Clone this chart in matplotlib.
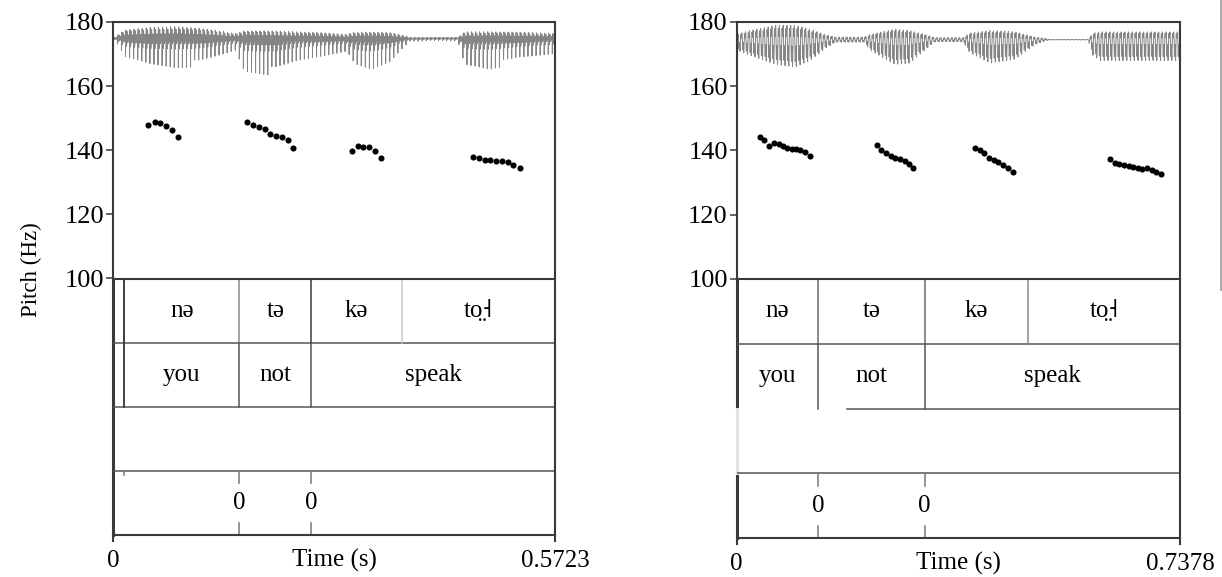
import numpy as np
import matplotlib
matplotlib.use("Agg")
import matplotlib.pyplot as plt
from matplotlib.lines import Line2D

plt.rcParams['font.family'] = ['Liberation Serif', 'DejaVu Serif']

# ---------------- Panel A (left) ----------------
dur_a = 0.5723
pitch_a_time = [0.0453, 0.0536, 0.0609, 0.0686, 0.0760, 0.0838,
                0.1735, 0.1809, 0.1887, 0.1960, 0.2033, 0.2111, 0.2184, 0.2262, 0.2331,
                0.3087, 0.3164, 0.3237, 0.3311, 0.3389, 0.3462,
                0.4661, 0.4735, 0.4809, 0.4881, 0.4955, 0.5029, 0.5107, 0.5179, 0.5262]
pitch_a_hz = [148.0, 148.75, 148.65, 147.7, 146.2, 144.0,
              148.75, 148.0, 147.1, 146.5, 145.0, 144.5, 144.2, 143.2, 140.7,
              139.8, 141.25, 141.1, 141.0, 139.7, 137.7,
              137.9, 137.6, 137.1, 136.9, 136.8, 136.6, 136.2, 135.5, 134.5]
syll_a_edges = [0.0, 0.0142, 0.1631, 0.2564, 0.3734, 0.5723]
syll_a_labels = ['', 'nə', 'tə', 'kə', 'to̤˧']
word_a_edges = [0.0, 0.0142, 0.1631, 0.2564, 0.5723]
word_a_labels = ['', 'you', 'not', 'speak']
point_a_time = [0.1631, 0.2564]
point_a_labels = ['0', '0']
# oscillogram envelope (time, extent above / below the trace centre, in Hz units)
wave_a_time = [0.000, 0.005, 0.015, 0.048, 0.080, 0.112, 0.138, 0.158, 0.170, 0.209,
               0.238, 0.268, 0.300, 0.313, 0.334, 0.358, 0.375, 0.384, 0.446, 0.455,
               0.488, 0.526, 0.5723]
wave_a_up = [0.3, 2.0, 5.0, 6.5, 7.0, 6.0, 4.5, 3.0, 4.5, 4.5,
             4.0, 3.5, 2.5, 3.8, 3.8, 3.5, 2.0, 0.8, 0.8, 4.0,
             4.0, 3.8, 3.0]
wave_a_down = [0.3, 2.0, 7.0, 9.0, 9.5, 8.5, 6.0, 4.0, 11.0, 11.4,
               8.0, 6.0, 4.0, 10.0, 11.4, 8.0, 3.0, 0.8, 0.8, 9.0,
               9.8, 7.0, 5.0]
wave_a_centre = 174.8
pulse_rate_a = 190.0

# ---------------- Panel B (right) ----------------
dur_b = 0.7378
pitch_b_time = [0.0388, 0.0460, 0.0543, 0.0626, 0.0699, 0.0771, 0.0842, 0.0915, 0.0987, 0.1058, 0.1142, 0.1215,
                0.2330, 0.2407, 0.2485, 0.2563, 0.2640, 0.2719, 0.2796, 0.2863, 0.2939,
                0.3966, 0.4044, 0.4122, 0.4201, 0.4279, 0.4357, 0.4435, 0.4514, 0.4592,
                0.6213, 0.6290, 0.6367, 0.6445, 0.6522, 0.6599, 0.6676, 0.6753, 0.6831, 0.6908, 0.6985, 0.7062]
pitch_b_hz = [144.2, 143.3, 141.3, 142.2, 141.9, 141.5, 140.9, 140.5, 140.6, 140.3, 139.6, 138.4,
              141.6, 140.1, 139.1, 138.4, 137.8, 137.3, 136.7, 135.8, 134.5,
              140.9, 140.0, 139.1, 137.8, 137.1, 136.3, 135.4, 134.5, 133.4,
              137.3, 136.25, 135.8, 135.5, 135.1, 134.8, 134.5, 134.3, 134.4, 134.0, 133.3, 132.8]
syll_b_edges = [0.0, 0.1353, 0.3129, 0.4853, 0.7378]
syll_b_labels = ['nə', 'tə', 'kə', 'to̤˧']
word_b_edges = [0.0, 0.1353, 0.3129, 0.7378]
word_b_labels = ['you', 'not', 'speak']
point_b_time = [0.1353, 0.3129]
point_b_labels = ['0', '0']
wave_b_time = [0.000, 0.022, 0.065, 0.097, 0.122, 0.147, 0.164, 0.212, 0.222, 0.263,
               0.288, 0.313, 0.330, 0.377, 0.388, 0.422, 0.463, 0.496, 0.513, 0.521,
               0.585, 0.593, 0.605, 0.7378]
wave_b_up = [2.0, 3.5, 5.5, 5.5, 4.0, 2.0, 1.0, 1.0, 2.0, 4.0,
             3.5, 2.0, 0.8, 0.8, 2.5, 3.5, 3.0, 1.0, 0.5, 0.1,
             0.1, 2.5, 3.0, 3.0]
wave_b_down = [4.0, 6.0, 9.5, 10.5, 8.0, 3.5, 1.0, 1.0, 4.0, 9.5,
               9.0, 4.0, 0.8, 0.8, 5.0, 9.0, 7.5, 2.0, 0.5, 0.1,
               0.1, 6.0, 8.0, 8.0]
wave_b_centre = 174.5
pulse_rate_b = 160.0

y_ticks = [100, 120, 140, 160, 180]

W, H = 1222, 577
FS_TICK = 19
FS = 18
FRAME = '#3a3a3a'
LINE = '#555555'

fig = plt.figure(figsize=(W / 100, H / 100), dpi=100)


def px_rect(x0, y0, x1, y1):
    return [x0 / W, 1 - y1 / H, (x1 - x0) / W, (y1 - y0) / H]


def oscillogram(dur, knots_t, up, down, centre, rate, spiky):
    t = np.arange(0, dur, 1 / 22050.0)
    phi = (rate * t) % 1.0
    if spiky:
        s = -np.exp(-phi / 0.05) + 0.55 * np.sin(2 * np.pi * 3 * phi) * np.exp(-phi / 0.5)
        pos_norm = 0.55
    else:
        s = 0.6 * np.sin(2 * np.pi * phi) + 0.4 * np.sin(2 * np.pi * 3 * phi + 0.5)
        pos_norm = 1.0
    eu = np.interp(t, knots_t, up)
    ed = np.interp(t, knots_t, down)
    y = centre + np.where(s > 0, s / pos_norm * eu, s * ed)
    return t, y


def panel(xl, xr, y_top, y_mid, y_bot, dur, p_t, p_hz, w_t, w_up, w_dn, w_c, rate, spiky,
          s_edges, s_labels, w_edges, w_labels, pt_t, pt_labels, bottom_label_y,
          edge_colors, tier3_left=True, tier3_top_from=0.0):
    ax = fig.add_axes(px_rect(xl, y_top, xr, y_mid))
    ax.set_xlim(0, dur)
    ax.set_ylim(100, 180)
    t, y = oscillogram(dur, w_t, w_up, w_dn, w_c, rate, spiky)
    ax.plot(t, y, color='#858585', lw=0.7)
    ax.plot(p_t, p_hz, 'o', color='black', ms=4.4, mec='black', mew=0)
    ax.set_yticks(y_ticks)
    ax.set_yticklabels([str(v) for v in y_ticks], fontsize=FS_TICK)
    ax.set_xticks([])
    ax.tick_params(axis='y', direction='out', length=5, width=1.1, color=FRAME, pad=1.5)
    for k in ('left', 'top', 'right'):
        ax.spines[k].set_color(FRAME)
        ax.spines[k].set_linewidth(1.5)
    ax.spines['bottom'].set_visible(False)

    tx = fig.add_axes(px_rect(xl, y_mid, xr, y_bot))
    tx.set_xlim(0, dur)
    tx.set_ylim(0, 4)
    tx.set_yticks([])
    tx.set_xticks([])
    for k in ('top', 'right', 'bottom'):
        tx.spines[k].set_color(FRAME)
        tx.spines[k].set_linewidth(1.5)
    tx.spines['left'].set_visible(False)
    # left border, tier by tier
    tx.plot([0, 0], [2, 4], color=FRAME, lw=2.2, clip_on=False)
    tx.plot([0, 0], [0, 1], color=FRAME, lw=2.2, clip_on=False)
    tx.plot([0, 0], [1, 2], color=FRAME if tier3_left else '#e4e4e4', lw=2.2, clip_on=False)
    # tier separators
    tx.plot([0, dur], [3, 3], color=LINE, lw=1.1)
    tx.plot([tier3_top_from, dur], [2, 2], color=LINE, lw=1.1)
    tx.plot([0, dur], [1, 1], color=LINE, lw=1.1)

    # interval tier 1
    for e, c in zip(s_edges[1:-1], edge_colors):
        tx.plot([e, e], [3, 4], color=c, lw=1.1)
    for a, b, lab in zip(s_edges[:-1], s_edges[1:], s_labels):
        if lab:
            tx.text((a + b) / 2, 3.5, lab, ha='center', va='center', fontsize=FS)
    # interval tier 2
    for e in w_edges[1:-1]:
        tx.plot([e, e], [2, 3], color=LINE, lw=1.1)
    for a, b, lab in zip(w_edges[:-1], w_edges[1:], w_labels):
        if lab:
            tx.text((a + b) / 2, 2.5, lab, ha='center', va='center', fontsize=FS)
    # point tier
    for p, lab in zip(pt_t, pt_labels):
        tx.plot([p, p], [0.81, 1.0], color='#777777', lw=1.1)
        tx.plot([p, p], [0.0, 0.19], color='#777777', lw=1.1)
        tx.text(p, 0.5, lab, ha='center', va='center', fontsize=FS)

    # time axis
    tx.plot([0, 0], [0, -0.09], color=FRAME, lw=1.5, clip_on=False)
    tx.plot([dur, dur], [0, -0.09], color=FRAME, lw=1.5, clip_on=False)
    yb = 1 - bottom_label_y / H
    fig.text(xl / W, yb, '0', ha='center', va='baseline', fontsize=FS)
    fig.text(xr / W, yb, f'{dur:.4f}', ha='center', va='baseline', fontsize=FS)
    fig.text((xl + xr) / 2 / W, yb, 'Time (s)', ha='center', va='baseline', fontsize=FS)
    return ax, tx


ax_a, tx_a = panel(113.3, 555.3, 22, 278.5, 535, dur_a, pitch_a_time, pitch_a_hz,
                   wave_a_time, wave_a_up, wave_a_down, wave_a_centre, pulse_rate_a, True,
                   syll_a_edges, syll_a_labels, word_a_edges, word_a_labels,
                   point_a_time, point_a_labels, 567,
                   edge_colors=[FRAME, '#8a8a8a', FRAME, '#c8c8c8'])
tx_a.plot([syll_a_edges[1]] * 2, [2, 4], color=FRAME, lw=1.1)
tx_a.plot([syll_a_edges[1]] * 2, [0.93, 1.0], color='#777777', lw=1.1)

ax_b, tx_b = panel(736.7, 1180.0, 22, 279, 538, dur_b, pitch_b_time, pitch_b_hz,
                   wave_b_time, wave_b_up, wave_b_down, wave_b_centre, pulse_rate_b, False,
                   syll_b_edges, syll_b_labels, word_b_edges, word_b_labels,
                   point_b_time, point_b_labels, 570,
                   edge_colors=['#6a6a6a', '#6a6a6a', '#8a8a8a'],
                   tier3_left=False, tier3_top_from=0.183)

fig.text(31 / W, 1 - 270 / H, 'Pitch (Hz)', rotation=90, ha='center', va='center', fontsize=16.5)
fig.add_artist(Line2D([1220.5 / W, 1220.5 / W], [1 - 290 / H, 1.0], color='#9a9a9a', lw=1.2))

fig.savefig('out.png', dpi=100)
